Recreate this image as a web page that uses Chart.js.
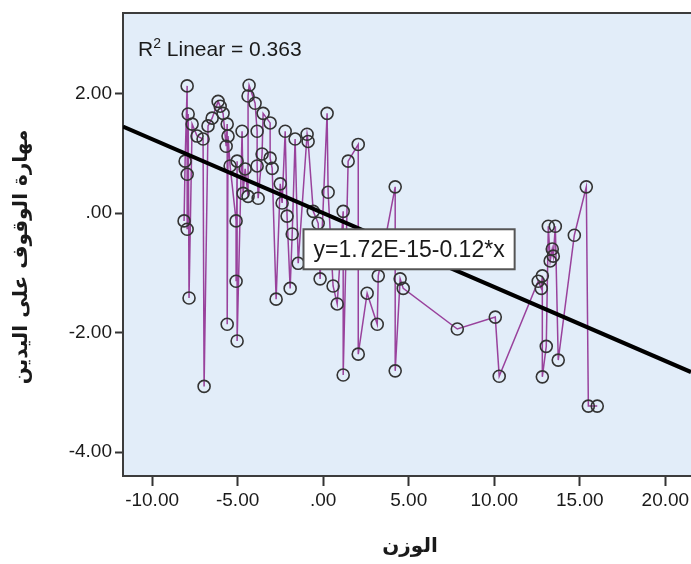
<!DOCTYPE html>
<html lang="ar">
<head>
<meta charset="UTF-8">
<title>الوزن / مهارة الوقوف على اليدين</title>
<script src="https://cdn.jsdelivr.net/npm/chart.js"></script>
<style>
  html, body { margin: 0; padding: 0; background: #fff; overflow: hidden; }
</style>
</head>
<body>
<canvas id="scatterChart" width="691" height="564"></canvas>
<script>
// axis ranges and ticks
const xRange = [-11.7, 21.5];
const yRange = [-4.4, 3.35];
const xTicks = [-10, -5, 0, 5, 10, 15, 20];
const yTicks = [-4, -2, 0, 2];

// الوزن (x) and مهارة الوقوف على اليدين (y)
const weight = [-8.13, -8.07, -7.95, -7.89, -7.95, -7.95, -7.84, -7.66, -7.37, -7.02,
  -6.96, -6.73, -6.49, -6.14, -6.02, -5.85, -5.61, -5.61, -5.56, -5.67,
  -5.44, -5.09, -5.03, -5.09, -5.03, -4.74, -4.68, -4.56, -4.39, -4.33,
  -4.39, -3.98, -3.86, -3.86, -3.80, -3.57, -3.51, -3.10, -3.10, -2.98,
  -2.75, -2.51, -2.40, -2.22, -2.11, -1.93, -1.81, -1.64, -1.46, -0.94,
  -0.88, -0.58, -0.29, -0.18, 0.23, 0.29, 0.58, 0.82, 1.17, 1.17,
  1.46, 2.05, 2.05, 2.57, 3.22, 3.16, 4.21, 4.21, 4.50, 4.68,
  7.84, 10.06, 10.29, 12.57, 12.75, 12.81, 12.81, 13.04, 13.16, 13.27,
  13.39, 13.45, 13.57, 13.74, 14.68, 15.38, 15.50, 16.02];
const handstand = [-0.13, 0.87, 2.13, 1.66, 0.65, -0.27, -1.42, 1.49, 1.29, 1.24,
  -2.90, 1.46, 1.59, 1.87, 1.79, 1.67, 1.49, -1.86, 1.29, 1.12,
  0.79, -0.13, 0.87, -1.14, -2.14, 1.37, 0.33, 0.74, 0.28, 2.14,
  1.96, 1.84, 1.37, 0.79, 0.25, 0.99, 1.67, 1.51, 0.92, 0.75,
  -1.44, 0.49, 0.17, 1.37, -0.05, -1.26, -0.35, 1.24, -0.84, 1.32,
  1.20, 0.03, -0.17, -1.10, 1.67, 0.35, -1.22, -1.52, 0.03, -2.71,
  0.87, 1.15, -2.36, -1.34, -1.05, -1.86, 0.44, -2.64, -1.10, -1.26,
  -1.94, -1.74, -2.73, -1.14, -1.26, -1.05, -2.74, -2.23, -0.22, -0.80,
  -0.60, -0.72, -0.22, -2.46, -0.37, 0.44, -3.23, -3.23];

// fit line ends (read at the plot edges)
const fitX = [-11.7, 21.5];
const fitY = [1.45, -2.66];

const r2Label = 'Linear = 0.363';
const eqLabel = 'y=1.72E-15-0.12*x';
const eqAnchor = [-1.15, -0.27];   // top-left corner of the equation box, in data units
const yTitle = 'مهارة الوقوف على اليدين';
const xTitle = 'الوزن';

const FONT = '"Liberation Sans", Arial, sans-serif';
const TITLE_FONT = 'bold 20px "DejaVu Sans", sans-serif';

// SPSS puts the interpolation line through the points in x order
const points = weight.map((x, i) => ({ x: x, y: handstand[i] }))
  .sort((a, b) => a.x - b.x);

function fmt(v) {
  if (v === 0) return '.00';
  return v.toFixed(2);
}

const plotFrame = {
  id: 'plotFrame',
  beforeDraw(chart) {
    const { ctx, chartArea: a } = chart;
    ctx.save();
    ctx.fillStyle = '#e2edf9';
    ctx.fillRect(a.left, a.top, a.right - a.left, a.bottom - a.top);
    ctx.restore();
  },
  afterDraw(chart) {
    const { ctx, chartArea: a, scales } = chart;
    ctx.save();
    // top border
    ctx.strokeStyle = '#3c3c3c';
    ctx.lineWidth = 2;
    ctx.beginPath();
    ctx.moveTo(a.left, a.top);
    ctx.lineTo(a.right, a.top);
    ctx.stroke();

    // axis titles
    ctx.fillStyle = '#1a1a1a';
    ctx.font = TITLE_FONT;
    ctx.textAlign = 'center';
    ctx.textBaseline = 'middle';
    ctx.fillText(xTitle, 410, 547);
    ctx.save();
    ctx.translate(22, 257);
    ctx.rotate(-Math.PI / 2);
    ctx.fillText(yTitle, 0, 0);
    ctx.restore();

    // R² Linear = 0.363
    ctx.textBaseline = 'alphabetic';
    ctx.textAlign = 'left';
    let tx = a.left + 15;
    const ty = a.top + 43;
    ctx.font = '21px ' + FONT;
    ctx.fillText('R', tx, ty);
    tx += ctx.measureText('R').width;
    ctx.font = '14px ' + FONT;
    ctx.fillText('2', tx, ty - 8);
    tx += ctx.measureText('2').width;
    ctx.font = '21px ' + FONT;
    ctx.fillText(' ' + r2Label, tx, ty);

    // equation box
    ctx.font = '23px ' + FONT;
    const bx = scales.x.getPixelForValue(eqAnchor[0]);
    const by = scales.y.getPixelForValue(eqAnchor[1]);
    const bw = ctx.measureText(eqLabel).width + 20;
    const bh = 40;
    ctx.fillStyle = '#ffffff';
    ctx.fillRect(bx, by, bw, bh);
    ctx.strokeStyle = '#555';
    ctx.lineWidth = 2;
    ctx.strokeRect(bx, by, bw, bh);
    ctx.fillStyle = '#1a1a1a';
    ctx.textBaseline = 'middle';
    ctx.fillText(eqLabel, bx + 10, by + bh / 2 + 1);
    ctx.restore();
  }
};

const ctx = document.getElementById('scatterChart').getContext('2d');
new Chart(ctx, {
  type: 'scatter',
  data: {
    datasets: [
      {
        type: 'line',
        label: 'Linear',
        data: fitX.map((x, i) => ({ x: x, y: fitY[i] })),
        borderColor: '#000',
        borderWidth: 4,
        pointRadius: 0,
        fill: false,
        order: 0
      },
      {
        label: 'cases',
        data: points,
        showLine: true,
        borderColor: 'rgba(140, 35, 140, 0.85)',
        borderWidth: 1.5,
        pointRadius: 6,
        pointBorderWidth: 1.6,
        pointBorderColor: '#333',
        pointBackgroundColor: 'rgba(0,0,0,0)',
        order: 1
      }
    ]
  },
  options: {
    responsive: false,
    animation: false,
    layout: { autoPadding: false, padding: { left: 6, top: 13, right: 0, bottom: 6 } },
    plugins: {
      legend: { display: false },
      tooltip: { enabled: false }
    },
    scales: {
      x: {
        type: 'linear',
        min: xRange[0],
        max: xRange[1],
        afterBuildTicks: s => { s.ticks = xTicks.map(v => ({ value: v })); },
        afterFit: s => { s.height = 564 - 476 - 6; s.paddingLeft = 0; s.paddingRight = 0; },
        ticks: { callback: fmt, color: '#1a1a1a', font: { family: FONT, size: 19 }, padding: 3, maxRotation: 0, autoSkip: false },
        grid: { drawOnChartArea: false, drawTicks: true, tickLength: 10, tickColor: '#333', tickWidth: 2 },
        border: { color: '#3c3c3c', width: 2 }
      },
      y: {
        type: 'linear',
        min: yRange[0],
        max: yRange[1],
        afterBuildTicks: s => { s.ticks = yTicks.map(v => ({ value: v })); },
        afterFit: s => { s.width = 123 - 6; s.paddingTop = 0; s.paddingBottom = 0; },
        ticks: { callback: fmt, color: '#1a1a1a', font: { family: FONT, size: 19 }, padding: 3 },
        grid: { drawOnChartArea: false, drawTicks: true, tickLength: 8, tickColor: '#333', tickWidth: 2 },
        border: { color: '#3c3c3c', width: 2 }
      }
    }
  },
  plugins: [plotFrame]
});
</script>
</body>
</html>
